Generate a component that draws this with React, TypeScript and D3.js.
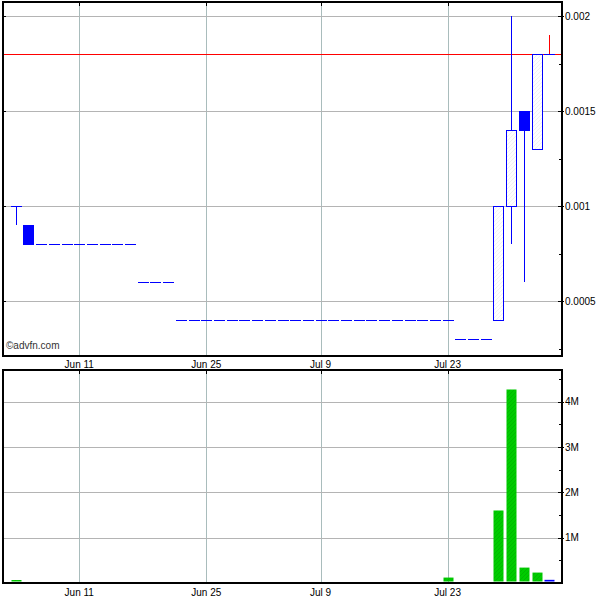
import React from "react";
import * as d3 from "d3";

const dates: string[] = [
  "2012-06-04","2012-06-05","2012-06-06","2012-06-07","2012-06-08",
  "2012-06-11","2012-06-12","2012-06-13","2012-06-14","2012-06-15",
  "2012-06-18","2012-06-19","2012-06-20","2012-06-21","2012-06-22",
  "2012-06-25","2012-06-26","2012-06-27","2012-06-28","2012-06-29",
  "2012-07-02","2012-07-03","2012-07-05","2012-07-06",
  "2012-07-09","2012-07-10","2012-07-11","2012-07-12","2012-07-13",
  "2012-07-16","2012-07-17","2012-07-18","2012-07-19","2012-07-20",
  "2012-07-23","2012-07-24","2012-07-25","2012-07-26","2012-07-27",
  "2012-07-30","2012-07-31","2012-08-01","2012-08-02",
];

const opens: number[] = [
  0.001, 0.0009, 0.0008, 0.0008, 0.0008, 0.0008, 0.0008, 0.0008, 0.0008, 0.0008,
  0.0006, 0.0006, 0.0006,
  0.0004, 0.0004, 0.0004, 0.0004, 0.0004, 0.0004, 0.0004, 0.0004, 0.0004, 0.0004, 0.0004,
  0.0004, 0.0004, 0.0004, 0.0004, 0.0004, 0.0004, 0.0004, 0.0004, 0.0004, 0.0004, 0.0004,
  0.0003, 0.0003, 0.0003,
  0.0004, 0.001, 0.0015, 0.0013, 0.0018,
];
const highs: number[] = [
  0.001, 0.0009, 0.0008, 0.0008, 0.0008, 0.0008, 0.0008, 0.0008, 0.0008, 0.0008,
  0.0006, 0.0006, 0.0006,
  0.0004, 0.0004, 0.0004, 0.0004, 0.0004, 0.0004, 0.0004, 0.0004, 0.0004, 0.0004, 0.0004,
  0.0004, 0.0004, 0.0004, 0.0004, 0.0004, 0.0004, 0.0004, 0.0004, 0.0004, 0.0004, 0.0004,
  0.0003, 0.0003, 0.0003,
  0.001, 0.002, 0.0015, 0.0018, 0.0019,
];
const lows: number[] = [
  0.0009, 0.0008, 0.0008, 0.0008, 0.0008, 0.0008, 0.0008, 0.0008, 0.0008, 0.0008,
  0.0006, 0.0006, 0.0006,
  0.0004, 0.0004, 0.0004, 0.0004, 0.0004, 0.0004, 0.0004, 0.0004, 0.0004, 0.0004, 0.0004,
  0.0004, 0.0004, 0.0004, 0.0004, 0.0004, 0.0004, 0.0004, 0.0004, 0.0004, 0.0004, 0.0004,
  0.0003, 0.0003, 0.0003,
  0.0004, 0.0008, 0.0006, 0.0013, 0.0018,
];
const closes: number[] = [
  0.001, 0.0008, 0.0008, 0.0008, 0.0008, 0.0008, 0.0008, 0.0008, 0.0008, 0.0008,
  0.0006, 0.0006, 0.0006,
  0.0004, 0.0004, 0.0004, 0.0004, 0.0004, 0.0004, 0.0004, 0.0004, 0.0004, 0.0004, 0.0004,
  0.0004, 0.0004, 0.0004, 0.0004, 0.0004, 0.0004, 0.0004, 0.0004, 0.0004, 0.0004, 0.0004,
  0.0003, 0.0003, 0.0003,
  0.001, 0.0014, 0.0014, 0.0018, 0.0018,
];
const volumes: number[] = [
  50000, 0, 0, 0, 0, 0, 0, 0, 0, 0,
  0, 0, 0,
  0, 0, 0, 0, 0, 0, 0, 0, 0, 0, 0,
  0, 0, 0, 0, 0, 0, 0, 0, 0, 0, 120000,
  0, 0, 0,
  1600000, 4270000, 340000, 230000, 70000,
];

const xTickDates: string[] = ["2012-06-11", "2012-06-25", "2012-07-09", "2012-07-23"];
const xTickLabels: string[] = ["Jun 11", "Jun 25", "Jul 9", "Jul 23"];
const priceTicks: number[] = [0.0005, 0.001, 0.0015, 0.002];
const priceTickLabels: string[] = ["0.0005", "0.001", "0.0015", "0.002"];
const priceMinorTicks: number[] = [0.00025, 0.00075, 0.00125, 0.00175];
const volTicks: number[] = [1000000, 2000000, 3000000, 4000000];
const volTickLabels: string[] = ["1M", "2M", "3M", "4M"];
const volMinorTicks: number[] = [500000, 1500000, 2500000, 3500000, 4500000];
const refLine = 0.0018;

const LEFT = 3;
const RIGHT = 562;
const P_TOP = 2;
const P_BOT = 356;
const V_TOP = 370;
const V_BOT = 583;
const FONT = "'Liberation Sans', Arial, sans-serif";
const BLUE = "#0000ff";
const GRID = "#a9bcbc";

export default function App() {
  const n = dates.length;
  const x = d3.scaleLinear().domain([-1, n]).range([LEFT, RIGHT]);
  const y = d3
    .scaleLinear()
    .domain([0.001 - 150 / 190000, 0.001 + 204 / 190000])
    .range([P_BOT, P_TOP]);
  const yv = d3.scaleLinear().domain([0, 4700000]).range([V_BOT, V_TOP]);
  const bw = 10;
  const tickIdx = xTickDates.map((d) => dates.indexOf(d));

  const candles = dates.map((d, i) => {
    const o = opens[i], h = highs[i], l = lows[i], c = closes[i];
    const cx = Math.round(x(i)) + 0.5;
    const top = Math.max(o, c), bot = Math.min(o, c);
    const els: React.ReactNode[] = [];
    if (h > top) {
      els.push(
        <line key="hw" x1={cx} x2={cx} y1={y(h)} y2={y(top)}
          stroke={i === n - 1 ? "#ff0000" : BLUE} strokeWidth={1} />
      );
    }
    if (l < bot) {
      els.push(<line key="lw" x1={cx} x2={cx} y1={y(bot)} y2={y(l)} stroke={BLUE} strokeWidth={1} />);
    }
    if (o === c) {
      els.push(
        <line key="b" x1={cx - bw / 2 - 0.5} x2={cx + bw / 2 + 0.5} y1={Math.round(y(c)) + 0.5}
          y2={Math.round(y(c)) + 0.5} stroke={BLUE} strokeWidth={1} />
      );
    } else {
      const up = c > o;
      els.push(
        <rect key="b" x={cx - bw / 2} y={Math.round(y(top)) + 0.5} width={bw}
          height={Math.round(y(bot)) - Math.round(y(top))}
          fill={up ? "url(#hollow)" : BLUE} stroke={BLUE} strokeWidth={1} />
      );
    }
    return <g key={d}>{els}</g>;
  });

  const volBars = dates.map((d, i) => {
    const v = volumes[i];
    if (!v) return null;
    const cx = Math.round(x(i)) + 0.5;
    const top = yv(v);
    const bottom = V_BOT - 1.5;
    return (
      <rect key={d} x={cx - 5} y={Math.min(top, bottom - 1.5)} width={10}
        height={Math.max(1.5, bottom - top)}
        fill={i === n - 1 ? BLUE : "url(#volfill)"} />
    );
  });

  const textStyle: React.CSSProperties = { fontFamily: FONT, fontSize: "10px" };

  return (
    <svg width={600} height={600} style={{ position: "absolute", left: 0, top: 0, background: "#fff" }}>
      <defs>
        <pattern id="hollow" patternUnits="userSpaceOnUse" width={4} height={4}>
          <rect width={4} height={4} fill="#ffffff" />
          <path d="M0,4 L4,0" stroke="#efefef" strokeWidth={0.8} />
        </pattern>
        <pattern id="volfill" patternUnits="userSpaceOnUse" width={4} height={4}>
          <rect width={4} height={4} fill="#00cc00" />
          <path d="M0,4 L4,0" stroke="#00b400" strokeWidth={0.8} />
        </pattern>
      </defs>

      {tickIdx.map((ti, k) => (
        <line key={"pg" + k} x1={Math.round(x(ti)) + 0.5} x2={Math.round(x(ti)) + 0.5}
          y1={P_TOP} y2={P_BOT} stroke={GRID} strokeWidth={1} />
      ))}
      {priceTicks.map((t, k) => (
        <line key={"ph" + k} x1={LEFT} x2={RIGHT} y1={Math.round(y(t)) + 0.5} y2={Math.round(y(t)) + 0.5}
          stroke="#b4b4b4" strokeWidth={1} />
      ))}

      {tickIdx.map((ti, k) => (
        <line key={"vg" + k} x1={Math.round(x(ti)) + 0.5} x2={Math.round(x(ti)) + 0.5}
          y1={V_TOP} y2={V_BOT} stroke={GRID} strokeWidth={1} />
      ))}
      {volTicks.map((t, k) => (
        <line key={"vh" + k} x1={LEFT} x2={RIGHT} y1={Math.round(yv(t)) + 0.5} y2={Math.round(yv(t)) + 0.5}
          stroke="#b4b4b4" strokeWidth={1} />
      ))}

      <line x1={LEFT} x2={RIGHT} y1={Math.round(y(refLine)) + 0.5} y2={Math.round(y(refLine)) + 0.5}
        stroke="#ff0000" strokeWidth={1} />

      {candles}

      <rect x={LEFT} y={P_TOP} width={RIGHT - LEFT} height={P_BOT - P_TOP} fill="none" stroke="#000" strokeWidth={2} />
      <rect x={LEFT} y={V_TOP} width={RIGHT - LEFT} height={V_BOT - V_TOP} fill="none" stroke="#000" strokeWidth={2} />

      {volBars}

      {priceTicks.map((t, k) => (
        <g key={"pt" + k}>
          <line x1={RIGHT - 4} x2={RIGHT + 2} y1={Math.round(y(t)) + 0.5} y2={Math.round(y(t)) + 0.5} stroke="#000" />
          <line x1={LEFT} x2={LEFT + 3} y1={Math.round(y(t)) + 0.5} y2={Math.round(y(t)) + 0.5} stroke="#000" />
          <text x={RIGHT + 3} y={y(t)} dominantBaseline="central" style={textStyle}>{priceTickLabels[k]}</text>
        </g>
      ))}
      {priceMinorTicks.map((t, k) => (
        <line key={"pm" + k} x1={RIGHT - 3} x2={RIGHT} y1={Math.round(y(t)) + 0.5} y2={Math.round(y(t)) + 0.5} stroke="#000" />
      ))}
      {volTicks.map((t, k) => (
        <g key={"vt" + k}>
          <line x1={RIGHT - 4} x2={RIGHT + 2} y1={Math.round(yv(t)) + 0.5} y2={Math.round(yv(t)) + 0.5} stroke="#000" />
          <text x={RIGHT + 3} y={yv(t)} dominantBaseline="central" style={textStyle}>{volTickLabels[k]}</text>
        </g>
      ))}
      {volMinorTicks.map((t, k) => (
        <line key={"vm" + k} x1={RIGHT - 3} x2={RIGHT} y1={Math.round(yv(t)) + 0.5} y2={Math.round(yv(t)) + 0.5} stroke="#000" />
      ))}

      {tickIdx.map((ti, k) => (
        <g key={"xt" + k}>
          <line x1={Math.round(x(ti)) + 0.5} x2={Math.round(x(ti)) + 0.5} y1={P_TOP} y2={P_TOP + 4} stroke="#000" />
          <line x1={Math.round(x(ti)) + 0.5} x2={Math.round(x(ti)) + 0.5} y1={V_TOP} y2={V_TOP + 4} stroke="#000" />
          <text x={x(ti)} y={P_BOT + 8} textAnchor="middle" dominantBaseline="central" style={textStyle}>{xTickLabels[k]}</text>
          <text x={x(ti)} y={V_BOT + 9} textAnchor="middle" dominantBaseline="central" style={textStyle}>{xTickLabels[k]}</text>
        </g>
      ))}

      <text x={6} y={349} style={textStyle} fill="#333">©advfn.com</text>
    </svg>
  );
}
